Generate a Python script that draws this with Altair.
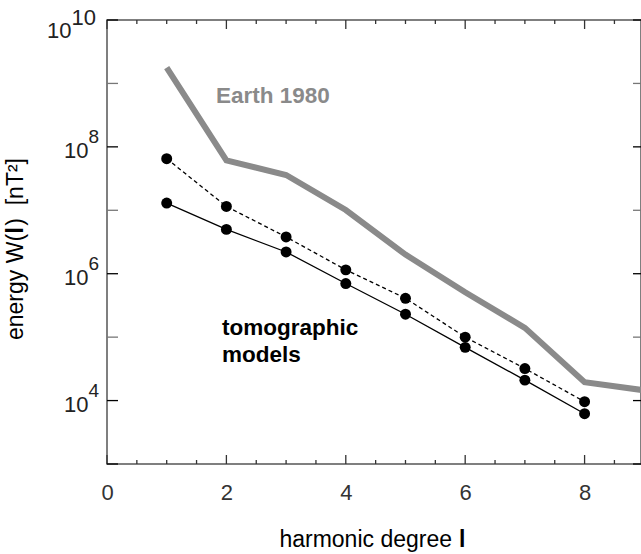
import altair as alt
import pandas as pd

FONT = "Liberation Sans"
GREY = "#8a8a8a"
W, H = 534, 444  # plot area in pixels

# harmonic degrees of the two tomographic models
degree = [1, 2, 3, 4, 5, 6, 7, 8]
# energy spectra W(l) in nT^2
model_upper = [6.5e7, 1.15e7, 3.8e6, 1.15e6, 4.1e5, 1.0e5, 3.2e4, 9.6e3]
model_lower = [1.3e7, 5.0e6, 2.2e6, 7.0e5, 2.3e5, 6.9e4, 2.1e4, 6.2e3]

# spectrum of the Earth's field (1980)
earth_degree = [1, 2, 3, 4, 5, 6, 7, 8, 9]
earth_energy = [1.78e9, 6.1e7, 3.6e7, 1.01e7, 2.0e6, 5.1e5, 1.4e5, 1.95e4, 1.45e4]

# axis ticks
x_labels = [0, 2, 4, 6, 8]
x_major = [0, 2, 4, 6, 8]
x_minor = [0.5, 1, 1.5, 2.5, 3, 3.5, 4.5, 5, 5.5, 6.5, 7, 7.5, 8.5]
y_major_exp = [3, 4, 6, 8, 10]
y_minor_exp = [5, 7, 9]
y_label_exp = [4, 6, 8]
y_top_exp = [10]

# annotation labels
note_text = ["Earth 1980", "tomographic", "models"]
note_x = [1.826, 1.926, 1.926]
note_y = [4.9e8, 1.08e5, 4.06e4]
note_color = [GREY, "black", "black"]

x_scale = alt.Scale(domain=[0, 8.945], nice=False, zero=False)
y_scale = alt.Scale(type="log", domain=[1e3, 1e10], nice=False)

models = pd.DataFrame({
    "degree": degree * 2,
    "energy": model_upper + model_lower,
    "model": ["upper"] * len(degree) + ["lower"] * len(degree),
})
earth = pd.DataFrame({"degree": earth_degree, "energy": earth_energy})

x_enc = alt.X("degree:Q", scale=x_scale,
              axis=alt.Axis(values=x_labels, domain=False, ticks=False, grid=False,
                            labelFontSize=22, labelPadding=18, labelColor="#333",
                            labelFont=FONT, labelFlush=False, title=None, format="d"))
y_enc = alt.Y("energy:Q", scale=y_scale, axis=None)

earth_line = alt.Chart(earth).mark_line(color=GREY, strokeWidth=6).encode(x=x_enc, y=y_enc)

upper_line = alt.Chart(models).transform_filter("datum.model == 'upper'").mark_line(
    color="black", strokeWidth=1.3, strokeDash=[4, 3]).encode(x="degree:Q", y="energy:Q")
lower_line = alt.Chart(models).transform_filter("datum.model == 'lower'").mark_line(
    color="black", strokeWidth=1.3).encode(x="degree:Q", y="energy:Q")
dots = alt.Chart(models).mark_circle(color="black", size=120, opacity=1).encode(
    x="degree:Q", y="energy:Q")

notes = pd.DataFrame({"degree": note_x, "energy": note_y, "text": note_text, "color": note_color})
note_marks = alt.Chart(notes).mark_text(
    font=FONT, fontSize=22.5, fontWeight="bold", align="left", baseline="alphabetic"
).encode(x="degree:Q", y="energy:Q", text="text:N", color=alt.Color("color:N", scale=None))


def xticks(values, length, top):
    df = pd.DataFrame({"degree": values})
    if top:
        y0, y1 = 0, length
    else:
        y0, y1 = H, H - length
    return alt.Chart(df).mark_rule(color="#333", strokeWidth=1.3).encode(
        x="degree:Q", y=alt.value(y0), y2=alt.value(y1))


def yticks(exps, color, right):
    df = pd.DataFrame({"energy": [10.0 ** e for e in exps]})
    x0, x1 = (537, 526) if right else (0, 11)
    return alt.Chart(df).mark_rule(color=color, strokeWidth=1.3).encode(
        y="energy:Q", x=alt.value(x0), x2=alt.value(x1))


def ylabels(exps, base_x, base_dy, exp_dy, base_size, exp_size):
    df = pd.DataFrame({"energy": [10.0 ** e for e in exps],
                       "exp": [str(e) for e in exps]})
    base = alt.Chart(df).mark_text(
        font=FONT, fontSize=base_size, align="right", baseline="alphabetic",
        dy=base_dy, color="#222").encode(
        y="energy:Q", x=alt.value(base_x), text=alt.value("10"))
    sup = alt.Chart(df).mark_text(
        font=FONT, fontSize=exp_size, align="left", baseline="alphabetic",
        dy=exp_dy, color="#222").encode(
        y="energy:Q", x=alt.value(base_x), text="exp:N")
    return base + sup


title_df = pd.DataFrame({"k": [0]})


def title_piece(text, x, y, align, weight="normal", angle=0):
    return alt.Chart(title_df).mark_text(
        font=FONT, fontSize=23, fontWeight=weight, align=align,
        baseline="alphabetic", angle=angle, color="black").encode(
        x=alt.value(x), y=alt.value(y), text=alt.value(text))


x_title = (title_piece("harmonic degree", 345, 527, "right")
           + title_piece("l", 352, 527, "left", "bold"))
y_title = (title_piece("energy W(", -83.7, 320, "left", angle=270)
           + title_piece("l", -83.7, 213.5, "left", "bold", angle=270)
           + title_piece(")\u00a0\u00a0[nT\u00b2]", -83.7, 138, "right", angle=270))

chart = alt.layer(
    earth_line, upper_line, lower_line, dots, note_marks,
    xticks(x_major, 9, False), xticks(x_minor, 4, False),
    xticks(x_major, 9, True), xticks(x_minor, 4, True),
    yticks(y_major_exp, "black", False), yticks(y_minor_exp, "#777", False),
    yticks(y_major_exp, "black", True), yticks(y_minor_exp, "#777", True),
    ylabels(y_label_exp, -18.5, 11, -4, 22, 19),
    ylabels(y_top_exp, -35.5, 17.5, 4.5, 22, 22),
    x_title, y_title,
).properties(
    width=W, height=H,
    padding={"left": 107, "top": 20, "right": 0, "bottom": 90},
    autosize=alt.AutoSizeParams(type="none"),
).configure_view(stroke="#555", strokeWidth=1.5)

chart.save("out.html", embed_options={"renderer": "svg", "actions": False})
